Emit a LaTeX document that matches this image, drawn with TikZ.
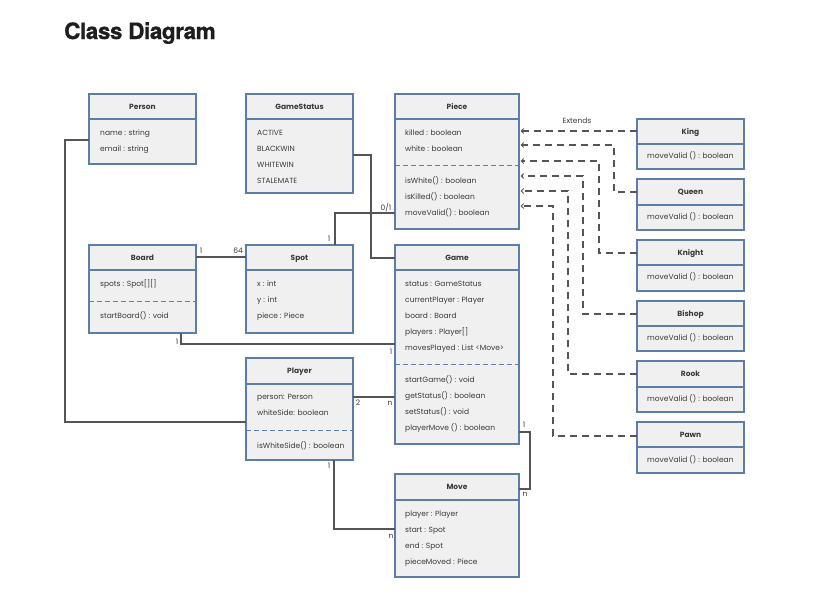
\documentclass[tikz,border=0pt]{standalone}
\usepackage{fontspec}
\setmainfont{Poppins}
\newfontfamily\headingfont{TeX Gyre Heros}[BoldFeatures={FakeBold=0.8}, LetterSpace=-2]
\usetikzlibrary{arrows.meta}

\definecolor{boxfill}{HTML}{F0F0F0}
\definecolor{boxblue}{HTML}{5B7EA8}
\definecolor{ink}{HTML}{3A3A3A}
\definecolor{wire}{HTML}{555555}
\definecolor{headingink}{HTML}{1E1E1E}

\tikzset{
  classbox/.style={draw=boxblue, fill=boxfill, line width=1.3pt, anchor=north west, inner sep=0pt, outer sep=0pt},
  frame/.style={draw=boxblue, line width=1.3pt},
  sepline/.style={draw=boxblue, line width=1pt, dash pattern=on 5pt off 3pt},
  hdr/.style={anchor=mid, inner sep=0pt, text=ink, font=\bfseries\fontsize{7.5}{9}\selectfont},
  attr/.style={anchor=mid west, inner sep=0pt, text=ink, font=\fontsize{7.5}{9}\selectfont},
  mult/.style={anchor=mid, inner sep=0pt, text=ink, font=\fontsize{7.5}{8}\selectfont},
  assoc/.style={draw=wire, line width=1.1pt},
  extends/.style={draw=wire, line width=1.1pt, dash pattern=on 7pt off 5pt,
    -{Straight Barb[length=2.5pt,width=5pt,line width=1pt]}, shorten >=1.5pt},
}

% class box: name, left, top, right, header bottom, bottom, title
\newcommand{\umlclass}[7]{%
  \node[classbox, minimum width={(#4-#2)*1pt}, minimum height={(#6-#3)*1pt}] (#1) at (#2,#3) {};
  \draw[frame] (#1.west |- 0,#5) -- (#1.east |- 0,#5);
  \node[hdr] (#1-title) at ({(#2+#4)/2},{(#3+#5)/2}) {#7};
}
% dashed separator between attributes and operations
\newcommand{\umlsep}[2]{\draw[sepline] (#1.west |- 0,#2) -- (#1.east |- 0,#2);}
% one member line: node name, x, y, text
\newcommand{\umlitem}[4]{\node[attr] (#1) at (#2,#3) {#4};}

\begin{document}
\begin{tikzpicture}[x=1pt, y=-1pt]
\useasboundingbox (0,0) rectangle (823,605);
\fill[white] (0,0) rectangle (823,605);

\node[anchor=base west, inner sep=0pt, text=headingink,
      font=\headingfont\bfseries\fontsize{22.5}{26}\selectfont] (heading) at (64,39) {Class Diagram};

% ---------- classes ----------
\umlclass{person}{89}{94}{196}{119}{164}{Person}
\umlitem{person-a1}{100}{133}{name : string}
\umlitem{person-a2}{100}{149}{email : string}

\umlclass{gamestatus}{246}{94}{353}{119}{193}{GameStatus}
\umlitem{gs-a1}{257}{133}{ACTIVE}
\umlitem{gs-a2}{257}{149}{BLACKWIN}
\umlitem{gs-a3}{257}{165}{WHITEWIN}
\umlitem{gs-a4}{257}{181}{STALEMATE}

\umlclass{piece}{395}{94}{519}{119}{229}{Piece}
\umlitem{piece-a1}{405}{133}{killed : boolean}
\umlitem{piece-a2}{405}{149}{white : boolean}
\umlsep{piece}{165}
\umlitem{piece-o1}{405}{181}{isWhite() : boolean}
\umlitem{piece-o2}{405}{197}{isKilled() : boolean}
\umlitem{piece-o3}{405}{213}{moveValid() : boolean}

\umlclass{king}{637}{119}{744}{144}{169}{King}
\umlitem{king-o1}{647}{156}{moveValid () : boolean}
\umlclass{queen}{637}{179}{744}{205}{230}{Queen}
\umlitem{queen-o1}{647}{217}{moveValid () : boolean}
\umlclass{knight}{637}{240}{744}{265}{291}{Knight}
\umlitem{knight-o1}{647}{277}{moveValid () : boolean}
\umlclass{bishop}{637}{301}{744}{326}{351}{Bishop}
\umlitem{bishop-o1}{647}{338}{moveValid () : boolean}
\umlclass{rook}{637}{361}{744}{387}{412}{Rook}
\umlitem{rook-o1}{647}{399}{moveValid () : boolean}
\umlclass{pawn}{637}{422}{744}{447}{473}{Pawn}
\umlitem{pawn-o1}{647}{460}{moveValid () : boolean}

\umlclass{board}{89}{245}{196}{270}{333}{Board}
\umlitem{board-a1}{100}{284}{spots : Spot[][]}
\umlsep{board}{301}
\umlitem{board-o1}{100}{316}{startBoard() : void}

\umlclass{spot}{246}{245}{353}{270}{333}{Spot}
\umlitem{spot-a1}{257}{284}{x : int}
\umlitem{spot-a2}{257}{300}{y : int}
\umlitem{spot-a3}{257}{316}{piece : Piece}

\umlclass{game}{395}{245}{519}{270}{444}{Game}
\umlitem{game-a1}{405}{284}{status : GameStatus}
\umlitem{game-a2}{405}{300}{currentPlayer : Player}
\umlitem{game-a3}{405}{316}{board : Board}
\umlitem{game-a4}{405}{332}{players : Player[]}
\umlitem{game-a5}{405}{348}{movesPlayed : List <Move>}
\umlsep{game}{364}
\umlitem{game-o1}{405}{380}{startGame() : void}
\umlitem{game-o2}{405}{396}{getStatus() : boolean}
\umlitem{game-o3}{405}{412}{setStatus() : void}
\umlitem{game-o4}{405}{428}{playerMove () : boolean}

\umlclass{player}{246}{358}{353}{384}{460}{Player}
\umlitem{player-a1}{257}{397}{person: Person}
\umlitem{player-a2}{257}{413}{whiteSide: boolean}
\umlsep{player}{430}
\umlitem{player-o1}{257}{446}{isWhiteSide() : boolean}

\umlclass{move}{395}{474}{519}{500}{577}{Move}
\umlitem{move-a1}{405}{514}{player : Player}
\umlitem{move-a2}{405}{530}{start : Spot}
\umlitem{move-a3}{405}{546}{end : Spot}
\umlitem{move-a4}{405}{562}{pieceMoved : Piece}

% ---------- associations ----------
\draw[assoc] (person.west |- 0,140) -- (65,140) |- (player.west |- 0,422);
\draw[assoc] (gamestatus.east |- 0,155) -- (371,155) |- (game.west |- 0,258);
\draw[assoc] (spot.north -| 335,0) |- (piece.west |- 0,213);
\draw[assoc] (board.east |- 0,257) -- (spot.west |- 0,257);
\draw[assoc] (board.south -| 181,0) |- (game.west |- 0,344);
\draw[assoc] (player.east |- 0,397) -- (game.west |- 0,397);
\draw[assoc] (player.south -| 334,0) |- (move.west |- 0,529);
\draw[assoc] (game.east |- 0,432) -- (530,432) |- (move.east |- 0,489);

% multiplicities
\node[mult] (m-bs1) at (201,251) {1};
\node[mult] (m-bs2) at (238,251) {64};
\node[mult] (m-sp1) at (329,239) {1};
\node[mult] (m-sp2) at (386,208) {0/1};
\node[mult] (m-bg1) at (177,342) {1};
\node[mult] (m-bg2) at (391,352) {1};
\node[mult] (m-pg1) at (358,403) {2};
\node[mult] (m-pg2) at (390,403) {n};
\node[mult] (m-pm1) at (329,466) {1};
\node[mult] (m-pm2) at (391,536) {n};
\node[mult] (m-gm1) at (524,425) {1};
\node[mult] (m-gm2) at (525,494) {n};

% ---------- generalisations ----------
\node[mult] (extends-label) at (577,121) {Extends};
\draw[extends] (king.west |- 0,131) -- (piece.east |- 0,131);
\draw[extends] (queen.west |- 0,192) -| (614,145) -- (piece.east |- 0,145);
\draw[extends] (knight.west |- 0,253) -| (599,161) -- (piece.east |- 0,161);
\draw[extends] (bishop.west |- 0,314) -| (583,176) -- (piece.east |- 0,176);
\draw[extends] (rook.west |- 0,374) -| (568,191) -- (piece.east |- 0,191);
\draw[extends] (pawn.west |- 0,436) -| (553,206) -- (piece.east |- 0,206);
\end{tikzpicture}
\end{document}
